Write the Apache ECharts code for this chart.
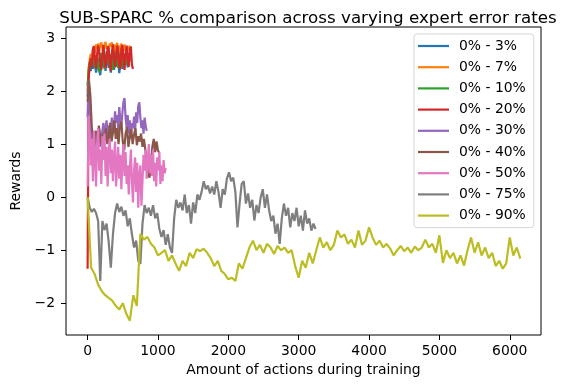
<!DOCTYPE html>
<html>
<head>
<meta charset="utf-8">
<script src="https://cdn.jsdelivr.net/npm/echarts@6/dist/echarts.min.js"></script>
<style>
  html, body { margin: 0; padding: 0; background: #fff; }
  #chart { width: 569px; height: 385px; }
</style>
</head>
<body>
<div id="chart"></div>
<script>
// legend names, one per run
var seriesNames = ['0% - 3%', '0% - 7%', '0% - 10%', '0% - 20%', '0% - 30%',
                   '0% - 40%', '0% - 50%', '0% - 75%', '0% - 90%'];
var xTicks = [0, 1000, 2000, 3000, 4000, 5000, 6000];
var yTicks = [-2, -1, 0, 1, 2, 3];

var rew3 = [1.9, 2.3, 2.45, 2.38, 2.55, 2.42, 2.6, 2.5, 2.35, 2.48, 2.62, 2.4, 2.3, 2.52, 2.66, 2.45, 2.58, 2.38, 2.7, 2.55,
            2.44, 2.62, 2.35, 2.5, 2.68, 2.4, 2.56, 2.72, 2.46, 2.6, 2.34, 2.52, 2.66, 2.42, 2.58, 2.7, 2.5, 2.62, 2.45, 2.55, 2.6];
var rew7 = [2.0, 2.45, 2.6, 2.7, 2.62, 2.78, 2.85, 2.72, 2.88, 2.8, 2.9, 2.76, 2.86, 2.92, 2.82, 2.7, 2.88, 2.93, 2.8, 2.86,
            2.74, 2.9, 2.84, 2.92, 2.78, 2.88, 2.7, 2.85, 2.91, 2.8, 2.86, 2.72, 2.9, 2.82, 2.76, 2.88, 2.8, 2.7, 2.84, 2.78, 2.86];
var rew10 = [2.1, 2.4, 2.55, 2.45, 2.6, 2.5, 2.68, 2.44, 2.58, 2.7, 2.48, 2.36, 2.6, 2.72, 2.5, 2.64, 2.42, 2.58, 2.75, 2.52,
             2.66, 2.45, 2.7, 2.56, 2.4, 2.62, 2.74, 2.5, 2.66, 2.44, 2.6, 2.72, 2.54, 2.46, 2.68, 2.58, 2.72, 2.5, 2.64, 2.56, 2.6];
var rew20 = [-1.35, 2.25, 2.5, 2.62, 2.45, 2.78, 2.85, 2.6, 2.42, 2.7, 2.86, 2.75, 2.5, 2.4, 2.68, 2.87, 2.62, 2.44, 2.58, 2.84,
             2.8, 2.52, 2.38, 2.72, 2.88, 2.66, 2.45, 2.6, 2.86, 2.74, 2.48, 2.42, 2.8, 2.87, 2.58, 2.4, 2.7, 2.86, 2.62, 2.46,
             2.78, 2.84, 2.5, 2.42];
var rew30 = [1.5, 2.2, 1.9, 1.3, 1.0, 1.15, 0.9, 1.25, 1.05, 0.85, 1.2, 1.3, 0.95, 1.1, 1.25, 1.4, 1.1, 1.3, 1.45, 1.15,
             1.35, 1.05, 1.25, 1.5, 1.2, 1.3, 1.62, 1.4, 1.55, 1.28, 1.7, 1.45, 1.35, 1.6, 1.8, 1.87, 1.5, 1.3, 1.55, 1.2,
             1.45, 1.1, 1.4, 1.3, 1.52, 1.25, 1.6, 1.4, 1.72, 1.79, 1.5, 1.3, 1.45, 1.2, 1.5, 1.35, 1.25];
var rew40 = [1.8, 2.2, 1.9, 1.3, 1.15, 1.0, 1.25, 1.05, 1.35, 1.1, 0.98, 1.2, 1.05, 1.3, 1.0, 1.15, 1.4, 1.05, 1.22, 1.45,
             1.1, 1.3, 1.0, 1.35, 1.42, 1.05, 0.88, 1.2, 1.32, 0.95, 1.15, 1.28, 1.0, 1.18, 1.3, 0.98, 1.15, 1.05, 1.2, 0.95,
             1.1, 0.9, 0.7, 0.45, 0.37, 0.6, 0.95, 1.1, 0.85, 1.05, 0.88, 0.83];
var rew50 = [0.2, 1.54, 1.2, 0.6, 1.1, 0.3, 1.25, 0.8, 0.2, 1.0, 1.3, 0.5, 0.9, 0.25, 1.15, 0.7, 1.2, 0.4, 0.95, 0.2,
             0.85, 1.1, 0.45, 0.9, 0.3, 0.75, 1.05, 0.2, 0.6, 0.95, 0.35, 0.8, 0.15, 0.7, 1.0, 0.4, 0.85, 0.25, 0.6, 0.05,
             0.55, 0.9, 0.3, -0.1, 0.5, 0.75, 0.1, 0.65, -0.2, 0.4, 0.6, -0.16, 0.3, 0.8, 0.5, 0.9, 0.35, 0.7, 1.0, 0.45,
             0.8, 0.4, 0.9, 0.3, 0.65, 0.2, 0.75, 0.5, 0.85, 0.25, 0.6, 0.3, 0.7, 0.45, 0.55];
var rew75 = [0.0, -0.2, -0.28, -0.22, -0.3, -0.45, -1.58, -0.45, -0.62, -0.5, -0.85, -1.33, -0.7, -0.3, -0.12, -0.28, -0.18, -0.35, -0.25, -0.55,
             -0.4, -0.7, -0.95, -0.82, -1.2, -1.26, -0.5, -0.15, -0.3, -0.2, -0.35, -0.15, -0.4, -0.3, -0.6, -0.75, -0.62, -0.9, -0.7, -0.95,
             -1.05, -0.4, -0.05, -0.2, -0.1, -0.25, 0.05, -0.3, -0.15, -0.5, -0.1, -0.3, 0.05, -0.05, 0.1, 0.3, 0.15, 0.22, 0.07, 0.2,
             0.05, 0.3, 0.1, -0.2, 0.15, 0.05, 0.35, 0.47, 0.3, 0.37, 0.1, -0.57, -0.12, 0.25, 0.3, -0.12, 0.07, -0.2, -0.05, -0.44,
             -0.15, -0.3, 0.0, 0.15, -0.2, 0.05, -0.25, -0.45, -0.35, -0.69, -0.5, -0.88, -0.4, -0.12, -0.35, -0.2, -0.57, -0.3, -0.45, -0.2,
             -0.55, -0.35, -0.63, -0.25, -0.5, -0.4, -0.63, -0.5, -0.6];
var rew90 = [0.0, -1.33, -1.45, -1.65, -1.77, -1.85, -1.9, -1.95, -2.05, -2.12, -2.0, -2.2, -2.33, -1.85, -2.05, -0.69, -0.8, -0.75, -0.88, -0.95,
             -1.1, -1.05, -1.0, -1.2, -1.1, -1.25, -1.39, -1.2, -1.3, -1.05, -1.15, -0.98, -1.02, -0.97, -1.05, -1.15, -1.3, -1.2, -1.39, -1.45,
             -1.55, -1.52, -1.58, -1.25, -1.35, -1.15, -0.95, -0.82, -1.0, -0.9, -1.05, -0.88, -0.95, -1.07, -0.92, -1.0, -0.95, -1.05, -1.0, -1.3,
             -1.52, -1.2, -1.33, -1.05, -1.25, -1.0, -0.76, -0.95, -0.85, -1.0, -0.9, -0.63, -0.76, -0.7, -0.88, -0.8, -0.95, -0.63, -0.9, -0.82,
             -0.57, -0.76, -0.9, -0.82, -0.95, -0.88, -0.97, -1.1, -1.0, -0.92, -1.02, -0.95, -1.05, -0.93, -1.0, -0.95, -0.8, -0.95, -0.88, -1.05,
             -0.72, -1.24, -1.0, -1.15, -1.05, -1.25, -1.1, -1.29, -1.0, -0.76, -1.05, -0.85, -1.1, -0.95, -1.15, -1.05, -1.3, -1.2, -1.35, -1.25,
             -0.76, -1.1, -0.95, -1.16];

var runs = [rew3, rew7, rew10, rew20, rew30, rew40, rew50, rew75, rew90];
var steps = [15, 15, 15, 15, 15, 20, 15, 30, 50];
var colors = ['#1f77b4', '#ff7f0e', '#2ca02c', '#d62728', '#9467bd',
              '#8c564b', '#e377c2', '#7f7f7f', '#bcbd22'];

var font = 'DejaVu Sans';
var chart = echarts.init(document.getElementById('chart'));

chart.setOption({
  animation: false,
  backgroundColor: '#fff',
  color: colors,
  title: {
    text: 'SUB-SPARC % comparison across varying expert error rates',
    left: 303,
    top: 5,
    textAlign: 'center',
    textStyle: { fontFamily: font, fontSize: 16.7, fontWeight: 'normal', color: '#000' }
  },
  grid: {
    left: 66, right: 28, top: 27, bottom: 50,
    show: true, borderColor: '#000', borderWidth: 1, backgroundColor: '#fff'
  },
  legend: {
    orient: 'vertical',
    left: 414, top: 34,
    data: seriesNames,
    icon: 'rect',
    itemWidth: 31, itemHeight: 2.2, itemGap: 5.2,
    padding: [4, 8, 4, 4],
    backgroundColor: 'rgba(255,255,255,0.8)',
    borderColor: '#d6d6d6', borderWidth: 1, borderRadius: 3,
    textStyle: { fontFamily: font, fontSize: 13.9, color: '#000', lineHeight: 16, padding: [0, 0, 0, 5] }
  },
  xAxis: {
    type: 'value',
    min: -307, max: 6444,
    name: 'Amount of actions during training',
    nameLocation: 'middle', nameGap: 28,
    nameTextStyle: { fontFamily: font, fontSize: 13.9, color: '#000' },
    axisLine: { show: false, onZero: false },
    splitLine: { show: false },
    axisTick: { show: true, length: 5, customValues: xTicks, lineStyle: { color: '#000', width: 1 } },
    axisLabel: {
      customValues: xTicks, margin: 9, fontFamily: font, fontSize: 13.9, color: '#000',
      formatter: function (v) { return String(v); }
    }
  },
  yAxis: {
    type: 'value',
    min: -2.6, max: 3.21,
    name: 'Rewards',
    nameLocation: 'middle', nameGap: 36,
    nameTextStyle: { fontFamily: font, fontSize: 13.9, color: '#000' },
    axisLine: { show: false, onZero: false },
    splitLine: { show: false },
    axisTick: { show: true, length: 5, customValues: yTicks, lineStyle: { color: '#000', width: 1 } },
    axisLabel: {
      customValues: yTicks, margin: 11, fontFamily: font, fontSize: 13.9, color: '#000',
      formatter: function (v) { return v < 0 ? '\u2212' + Math.abs(v) : String(v); }
    }
  },
  series: runs.map(function (ys, k) {
    return {
      name: seriesNames[k],
      type: 'line',
      symbol: 'none',
      showSymbol: false,
      lineStyle: { width: 2.2 },
      data: ys.map(function (v, i) { return [i * steps[k], v]; })
    };
  })
});
</script>
</body>
</html>
